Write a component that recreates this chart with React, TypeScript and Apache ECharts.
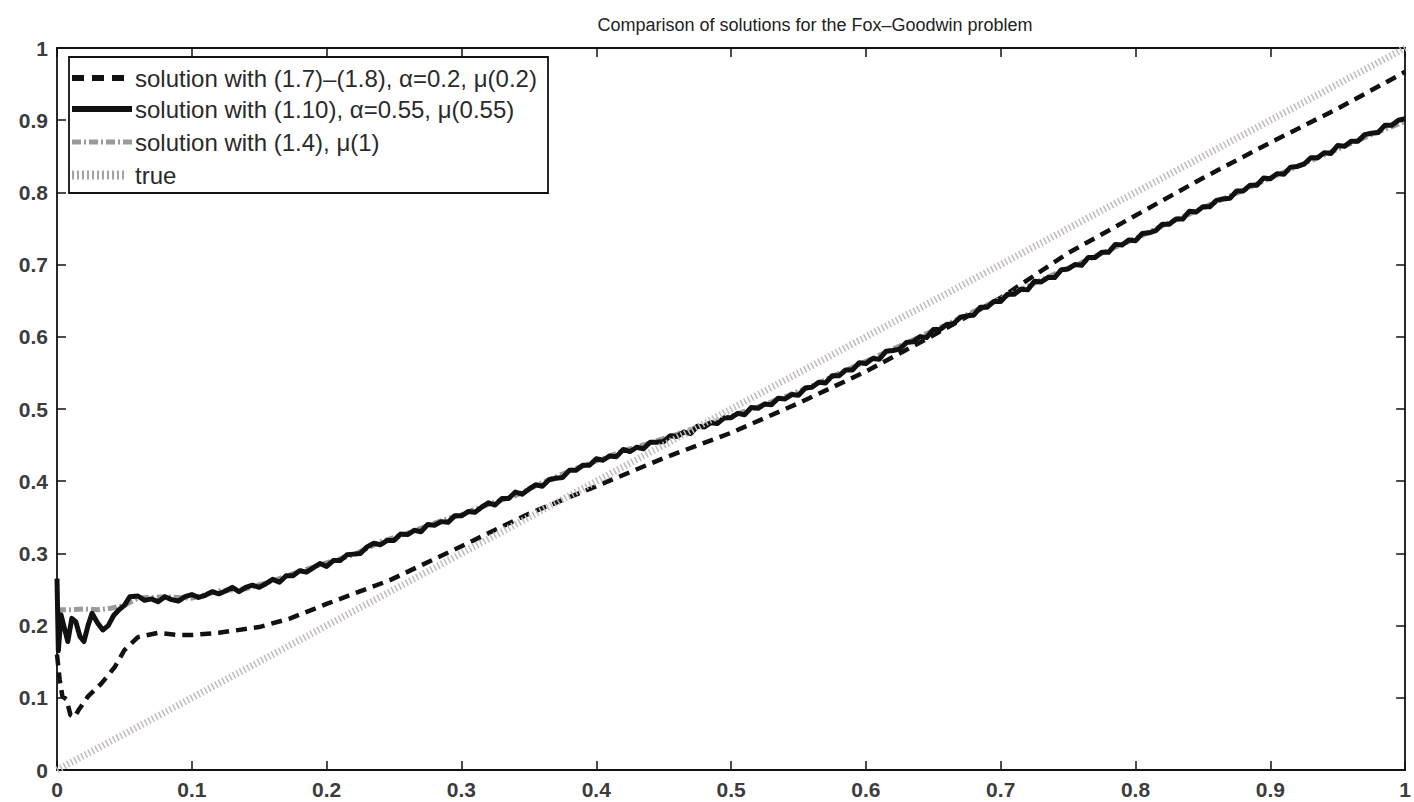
import React, { useEffect, useRef } from "react";
import * as echarts from "echarts";

const titleText = "Comparison of solutions for the Fox\u2013Goodwin problem";
const legendLabels = [
  "solution with (1.7)\u2013(1.8), \u03b1=0.2, \u03bc(0.2)",
  "solution with (1.10), \u03b1=0.55, \u03bc(0.55)",
  "solution with (1.4), \u03bc(1)",
  "true",
];

// dashed: solution with (1.7)-(1.8)
const dashedX = [0, 0.002, 0.004, 0.007, 0.010, 0.013, 0.016, 0.023, 0.033, 0.043, 0.050, 0.060, 0.075, 0.09, 0.10, 0.12, 0.15, 0.173, 0.20, 0.247, 0.30, 0.35, 0.40, 0.45, 0.50, 0.55, 0.60, 0.65, 0.70, 0.75, 0.80, 0.85, 0.90, 0.95, 1.00];
const dashedY = [0.16, 0.125, 0.102, 0.098, 0.076, 0.073, 0.083, 0.102, 0.120, 0.143, 0.166, 0.184, 0.190, 0.187, 0.187, 0.190, 0.198, 0.210, 0.230, 0.263, 0.310, 0.355, 0.393, 0.432, 0.467, 0.508, 0.552, 0.602, 0.654, 0.716, 0.768, 0.820, 0.869, 0.916, 0.967];

// solid: solution with (1.10)
const solidX = [0, 0.001, 0.003, 0.005, 0.008, 0.011, 0.014, 0.017, 0.020, 0.023, 0.026, 0.030, 0.034, 0.038, 0.042, 0.046, 0.050, 0.054,
  0.060, 0.065, 0.070, 0.075, 0.080, 0.085, 0.090, 0.095, 0.100, 0.105, 0.110, 0.115, 0.120, 0.125, 0.130, 0.135, 0.140, 0.145,
  0.150, 0.155, 0.160, 0.165, 0.170, 0.175, 0.180, 0.185, 0.190, 0.195, 0.200, 0.205, 0.210, 0.215, 0.220, 0.225, 0.230, 0.235,
  0.240, 0.245, 0.250, 0.255, 0.260, 0.265, 0.270, 0.275, 0.280, 0.285, 0.290, 0.295, 0.300, 0.305, 0.310, 0.315, 0.320, 0.325,
  0.330, 0.335, 0.340, 0.345, 0.350, 0.355, 0.360, 0.365, 0.370, 0.375, 0.380, 0.385, 0.390, 0.395, 0.400, 0.405, 0.410, 0.415,
  0.420, 0.425, 0.430, 0.435, 0.440, 0.445, 0.450, 0.455, 0.460, 0.465, 0.470, 0.475, 0.480, 0.485, 0.490, 0.495, 0.500, 0.505,
  0.510, 0.515, 0.520, 0.525, 0.530, 0.535, 0.540, 0.545, 0.550, 0.555, 0.560, 0.565, 0.570, 0.575, 0.580, 0.585, 0.590, 0.595,
  0.600, 0.605, 0.610, 0.615, 0.620, 0.625, 0.630, 0.635, 0.640, 0.645, 0.650, 0.655, 0.660, 0.665, 0.670, 0.675, 0.680, 0.685,
  0.690, 0.695, 0.700, 0.705, 0.710, 0.715, 0.720, 0.725, 0.730, 0.735, 0.740, 0.745, 0.750, 0.755, 0.760, 0.765, 0.770, 0.775,
  0.780, 0.785, 0.790, 0.795, 0.800, 0.805, 0.810, 0.815, 0.820, 0.825, 0.830, 0.835, 0.840, 0.845, 0.850, 0.855, 0.860, 0.865,
  0.870, 0.875, 0.880, 0.885, 0.890, 0.895, 0.900, 0.905, 0.910, 0.915, 0.920, 0.925, 0.930, 0.935, 0.940, 0.945, 0.950, 0.955,
  0.960, 0.965, 0.970, 0.975, 0.980, 0.985, 0.990, 0.995, 1.000];
const solidY = [0.265, 0.165, 0.215, 0.200, 0.178, 0.210, 0.205, 0.185, 0.178, 0.200, 0.217, 0.204, 0.194, 0.200, 0.214, 0.222, 0.228, 0.240,
  0.241, 0.235, 0.237, 0.233, 0.240, 0.236, 0.234, 0.240, 0.243, 0.239, 0.242, 0.247, 0.244, 0.248, 0.253, 0.247, 0.253, 0.256,
  0.253, 0.258, 0.264, 0.260, 0.269, 0.269, 0.276, 0.274, 0.280, 0.286, 0.282, 0.290, 0.290, 0.298, 0.299, 0.300, 0.309, 0.314,
  0.312, 0.318, 0.318, 0.327, 0.326, 0.332, 0.330, 0.340, 0.339, 0.344, 0.343, 0.352, 0.352, 0.358, 0.357, 0.364, 0.370, 0.367,
  0.376, 0.376, 0.385, 0.382, 0.389, 0.395, 0.393, 0.402, 0.404, 0.405, 0.415, 0.415, 0.422, 0.422, 0.431, 0.429, 0.435, 0.434,
  0.444, 0.441, 0.447, 0.445, 0.454, 0.454, 0.455, 0.463, 0.462, 0.468, 0.466, 0.476, 0.475, 0.481, 0.480, 0.488, 0.488, 0.494,
  0.492, 0.502, 0.501, 0.507, 0.506, 0.515, 0.514, 0.520, 0.519, 0.529, 0.530, 0.537, 0.536, 0.546, 0.546, 0.554, 0.554, 0.564,
  0.563, 0.570, 0.569, 0.580, 0.581, 0.583, 0.592, 0.593, 0.600, 0.599, 0.610, 0.610, 0.617, 0.618, 0.627, 0.629, 0.630, 0.641,
  0.641, 0.649, 0.649, 0.659, 0.659, 0.666, 0.665, 0.677, 0.676, 0.682, 0.682, 0.693, 0.694, 0.700, 0.699, 0.710, 0.710, 0.717,
  0.717, 0.728, 0.727, 0.734, 0.733, 0.743, 0.744, 0.747, 0.756, 0.756, 0.763, 0.763, 0.774, 0.773, 0.780, 0.780, 0.789, 0.791,
  0.792, 0.802, 0.802, 0.810, 0.810, 0.820, 0.819, 0.826, 0.825, 0.835, 0.836, 0.839, 0.848, 0.848, 0.855, 0.854, 0.865, 0.864,
  0.871, 0.871, 0.880, 0.882, 0.883, 0.893, 0.893, 0.900, 0.902];

// gray dash-dot: solution with (1.4)
const grayX = [0, 0.01, 0.02, 0.03, 0.04, 0.05, 0.06, 0.08, 0.10, 0.12, 0.14, 0.16, 0.18, 0.20, 0.22, 0.24, 0.26, 0.28, 0.30, 0.32, 0.34, 0.36, 0.38,
  0.40, 0.42, 0.44, 0.46, 0.48, 0.50, 0.52, 0.54, 0.56, 0.58, 0.60, 0.62, 0.64, 0.66, 0.68, 0.70, 0.72, 0.74, 0.76, 0.78, 0.80, 0.82, 0.84, 0.86,
  0.88, 0.90, 0.92, 0.94, 0.96, 0.98, 1.00];
const grayY = [0.222, 0.222, 0.223, 0.222, 0.224, 0.228, 0.238, 0.240, 0.238, 0.248, 0.251, 0.262, 0.275, 0.287, 0.298, 0.316, 0.328, 0.342, 0.354, 0.368, 0.380, 0.398, 0.414,
  0.428, 0.442, 0.453, 0.465, 0.478, 0.490, 0.503, 0.517, 0.532, 0.549, 0.566, 0.583, 0.600, 0.617, 0.635, 0.653, 0.670, 0.687, 0.703, 0.720, 0.736, 0.754, 0.770, 0.787,
  0.803, 0.820, 0.836, 0.852, 0.868, 0.884, 0.898];

// true solution
const trueX = [0, 1];
const trueY = [0, 1];

const pairs = (xs: number[], ys: number[]) => xs.map((x, i) => [x, ys[i]]);

const FONT = "'Liberation Sans', Arial, Helvetica, sans-serif";

export default function App() {
  const ref = useRef<HTMLDivElement>(null);
  useEffect(() => {
    document.body.style.margin = "0";
    const chart = echarts.init(ref.current!, null, { renderer: "svg" });
    const fmt = (v: number) => String(+(+v).toFixed(1));
    const axisCommon = {
      type: "value" as const,
      min: 0,
      max: 1,
      interval: 0.1,
      splitLine: { show: false },
      axisLine: { show: true, onZero: false, lineStyle: { color: "#111", width: 1.8 } },
      axisTick: { show: true, inside: true, length: 9, lineStyle: { color: "#111", width: 1.5 } },
    };
    const labelStyle = { formatter: fmt, fontFamily: FONT, fontSize: 21, fontWeight: "bold" as const, color: "#3c3c3c", margin: 9 };
    const lx = 72, rx = 132, tx = 135;
    const rows = [78, 109, 142, 175];
    chart.setOption({
      animation: false,
      backgroundColor: "#fff",
      title: {
        text: titleText,
        left: 810,
        textAlign: "center",
        top: 11,
        textStyle: { fontFamily: FONT, fontSize: 18, fontWeight: "normal", color: "#222" },
      },
      grid: { left: 57, right: 7, top: 48, bottom: 32 },
      xAxis: [
        { ...axisCommon, position: "bottom", axisLabel: labelStyle },
        { ...axisCommon, position: "top", axisLabel: { show: false } },
      ],
      yAxis: [
        { ...axisCommon, position: "left", axisLabel: labelStyle },
        { ...axisCommon, position: "right", axisLabel: { show: false } },
      ],
      series: [
        {
          name: legendLabels[0],
          type: "line",
          data: pairs(dashedX, dashedY),
          showSymbol: false,
          symbol: "none",
          z: 2,
          lineStyle: { color: "#111", width: 4.5, type: [11, 7] },
        },
        {
          name: legendLabels[2],
          type: "line",
          data: pairs(grayX, grayY),
          showSymbol: false,
          symbol: "none",
          z: 2,
          lineStyle: { color: "#9a9a9a", width: 5, type: [9, 3, 2, 3] },
        },
        {
          name: legendLabels[1],
          type: "line",
          data: pairs(solidX, solidY),
          showSymbol: false,
          symbol: "none",
          z: 3,
          lineStyle: { color: "#111", width: 5, join: "round" },
        },
        {
          name: legendLabels[3],
          type: "line",
          data: pairs(trueX, trueY),
          showSymbol: false,
          symbol: "none",
          z: 4,
          lineStyle: { color: "#c4b8b8", width: 7, type: [1.5, 2.5] },
        },
      ],
      graphic: [
        {
          type: "rect",
          shape: { x: 69, y: 57, width: 479, height: 136 },
          style: { fill: "#fff", stroke: "#111", lineWidth: 1.8 },
          z: 100,
        },
        { type: "line", shape: { x1: lx, y1: rows[0], x2: rx, y2: rows[0] }, style: { stroke: "#111", lineWidth: 6, lineDash: [12, 8] }, z: 101 },
        { type: "line", shape: { x1: lx, y1: rows[1], x2: rx, y2: rows[1] }, style: { stroke: "#111", lineWidth: 6 }, z: 101 },
        { type: "line", shape: { x1: lx, y1: rows[2], x2: rx, y2: rows[2] }, style: { stroke: "#9a9a9a", lineWidth: 5, lineDash: [9, 3, 2, 3] }, z: 101 },
        { type: "line", shape: { x1: lx, y1: rows[3], x2: 124, y2: rows[3] }, style: { stroke: "#aaa0a0", lineWidth: 9, lineDash: [2, 3] }, z: 101 },
        ...legendLabels.map((t, i) => ({
          type: "text",
          x: tx,
          y: rows[i],
          style: { text: t, fontFamily: FONT, fontSize: 24, fill: "#2a2a2a", verticalAlign: "middle" },
          z: 101,
        })),
      ],
    });
    return () => chart.dispose();
  }, []);
  return <div ref={ref} style={{ position: "absolute", left: 0, top: 0, width: 1414, height: 802 }} />;
}
